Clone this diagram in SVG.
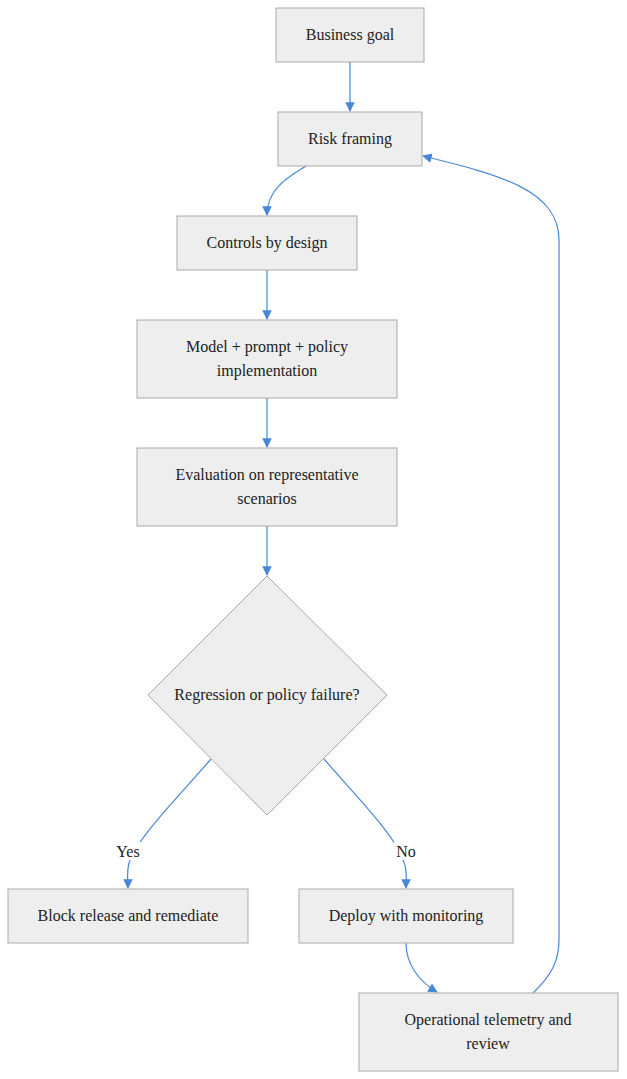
<svg xmlns="http://www.w3.org/2000/svg" width="627" height="1079" viewBox="0 0 627 1079">
<style>
.n{fill:#eeeeee;stroke:#a9a9a9;stroke-width:1}
.t{font-family:"Liberation Serif",serif;font-size:16px;fill:#222;text-anchor:middle}
.e{fill:none;stroke:#4a86d8;stroke-width:1.2}
</style>
<defs><marker id="a" viewBox="0 0 10 10" refX="9" refY="5" markerWidth="8" markerHeight="8" orient="auto"><path d="M0,0L10,5L0,10z" fill="#4a86d8"/></marker></defs>
<rect width="627" height="1079" fill="#fff"/>
<g id="edges">
<path class="e" d="M350,62V111" marker-end="url(#a)"/>
<path class="e" d="M306,166C290,176 267,188 267,215" marker-end="url(#a)"/>
<path class="e" d="M267,270V319" marker-end="url(#a)"/>
<path class="e" d="M267,398V447" marker-end="url(#a)"/>
<path class="e" d="M267,526V575" marker-end="url(#a)"/>
<path class="e" d="M211,759C180,795 140,835 130,860C126,870 128,880 128,888" marker-end="url(#a)"/>
<path class="e" d="M324,759C355,795 395,835 403,860C408,870 406,880 406,888" marker-end="url(#a)"/>
<path class="e" d="M406,943C406,965 420,982 437,992" marker-end="url(#a)"/>
<path class="e" d="M533,993C552,975 559,960 559,940V240C559,190 500,175 423,156" marker-end="url(#a)"/>
</g>
<g class="t">
<rect x="114" y="842" width="28" height="18" fill="#fff"/><text x="128" y="857">Yes</text>
<rect x="394" y="842" width="24" height="18" fill="#fff"/><text x="406" y="857">No</text>
</g>
<g id="n1"><rect class="n" x="276" y="8" width="148" height="54"/><text class="t" x="350" y="40">Business goal</text></g>
<g id="n2"><rect class="n" x="278" y="112" width="144" height="54"/><text class="t" x="350" y="144">Risk framing</text></g>
<g id="n3"><rect class="n" x="177" y="216" width="180" height="54"/><text class="t" x="267" y="248">Controls by design</text></g>
<g id="n4"><rect class="n" x="137" y="320" width="260" height="78"/><text class="t" x="267" y="352">Model + prompt + policy</text><text class="t" x="267" y="376">implementation</text></g>
<g id="n5"><rect class="n" x="137" y="448" width="260" height="78"/><text class="t" x="267" y="480">Evaluation on representative</text><text class="t" x="267" y="504">scenarios</text></g>
<g id="n6"><path class="n" d="M267,576L387,695L267,815L148,695Z"/><text class="t" x="267" y="700">Regression or policy failure?</text></g>
<g id="n7"><rect class="n" x="8" y="889" width="240" height="54"/><text class="t" x="128" y="921">Block release and remediate</text></g>
<g id="n8"><rect class="n" x="299" y="889" width="214" height="54"/><text class="t" x="406" y="921">Deploy with monitoring</text></g>
<g id="n9"><rect class="n" x="359" y="993" width="259" height="78"/><text class="t" x="488" y="1025">Operational telemetry and</text><text class="t" x="488" y="1049">review</text></g>
</svg>
